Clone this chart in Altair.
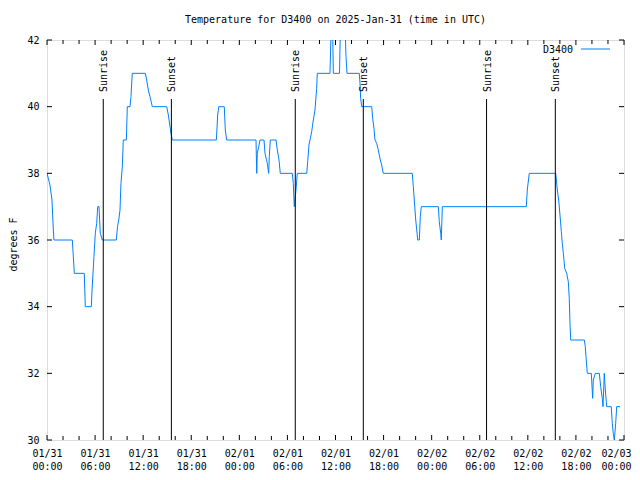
import altair as alt
import pandas as pd

# ---------------- data ----------------
hours = [0.00, 0.37, 0.62, 0.79, 0.87, 3.16, 3.41, 4.65, 4.78, 5.53, 5.62, 5.86, 6.03, 6.20, 6.33,
         6.49, 6.65, 6.90, 8.65, 8.80, 8.95, 9.11, 9.23, 9.40, 9.52, 9.90, 10.02, 10.36, 10.48, 10.64,
         12.27, 12.44, 12.64, 12.85, 13.14, 14.94, 15.14, 15.35, 15.47, 15.64, 21.13, 21.30, 21.43,
         22.12, 22.25, 22.42, 26.08, 26.17, 26.24, 26.42, 26.58, 27.08, 27.20, 27.49, 27.66, 27.74,
         27.86, 28.58, 28.74, 28.95, 29.11, 30.61, 30.73, 30.86, 31.07, 31.23, 32.41, 32.53, 32.69,
         32.86, 33.03, 33.23, 33.44, 33.65, 33.73, 35.31, 35.48, 35.60, 35.73, 36.50, 36.62, 36.75,
         37.12, 37.25, 37.31, 37.44, 38.97, 39.06, 39.14, 39.27, 40.52, 40.64, 40.80, 40.93, 41.14,
         41.34, 41.55, 41.76, 41.96, 45.58, 45.71, 45.83, 46.01, 46.26, 46.46, 46.58, 46.71, 48.83,
         48.95, 49.13, 49.20, 49.33, 59.81, 59.93, 60.18, 63.48, 63.68, 63.85, 64.01, 64.18, 64.30,
         64.43, 64.60, 64.85, 65.05, 65.17, 65.26, 65.35, 67.05, 67.17, 67.26, 67.42, 67.92, 68.09,
         68.17, 68.42, 68.92, 69.09, 69.29, 69.38, 69.54, 69.67, 69.84, 70.41, 70.54, 70.66, 70.79,
         70.96, 71.09, 71.50]
temps = [38.0, 37.65, 37.2, 36.3, 36.0, 36.0, 35.0, 35.0, 34.0, 34.0, 34.5, 35.5, 36.2, 36.5, 37.0,
         37.0, 36.2, 36.0, 36.0, 36.4, 36.6, 36.9, 37.7, 38.2, 39.0, 39.0, 40.0, 40.0, 40.3, 41.0,
         41.0, 40.8, 40.5, 40.3, 40.0, 40.0, 39.75, 39.4, 39.2, 39.0, 39.0, 39.75, 40.0,
         40.0, 39.3, 39.0, 39.0, 38.0, 38.6, 38.8, 39.0, 39.0, 38.6, 38.3, 38.0, 38.5,
         39.0, 39.0, 38.7, 38.4, 38.0, 38.0, 37.7, 37.0, 37.5, 38.0, 38.0, 38.35, 38.85,
         39.05, 39.25, 39.6, 39.9, 40.55, 41.0, 41.0, 42.5, 43.0, 41.0, 41.0, 42.5, 43.0,
         43.0, 42.0, 41.5, 41.0, 41.0, 40.7, 40.25, 40.0, 40.0, 39.65, 39.35, 39.0, 38.9,
         38.7, 38.45, 38.25, 38.0, 38.0, 37.6, 37.2, 36.6, 36.0, 36.0, 36.7, 37.0, 37.0,
         36.55, 36.2, 36.0, 37.0, 37.0, 37.5, 38.0, 38.0, 37.5, 37.2, 36.75, 36.25, 35.9,
         35.6, 35.15, 35.0, 34.75, 34.25, 33.5, 33.0, 33.0, 32.8, 32.5, 32.0, 32.0, 31.25,
         31.8, 32.0, 32.0, 31.6, 31.25, 31.0, 32.0, 31.5, 31.0, 31.0, 30.5, 30.2, 30.0,
         30.5, 31.0, 31.0]

event_hours = [7.02, 15.52, 30.98, 39.47, 54.85, 63.43]
event_labels = ["Sunrise", "Sunset", "Sunrise", "Sunset", "Sunrise", "Sunset"]

x_major = [0, 6, 12, 18, 24, 30, 36, 42, 48, 54, 60, 66, 72]
x_minor = [2, 4, 8, 10, 14, 16, 20, 22, 26, 28, 32, 34, 38, 40, 44, 46, 50, 52, 56, 58, 62, 64, 68, 70]
y_ticks = [30, 32, 34, 36, 38, 40, 42]
day_labels = ["01/31", "02/01", "02/02", "02/03"]
time_labels = ["00:00", "06:00", "12:00", "18:00"]
series_name = "D3400"
title_text = "Temperature for D3400 on 2025-Jan-31 (time in UTC)"
y_title = "degrees F"

# ---------------- style ----------------
FONT = "DejaVu Sans Mono"
FS = 10
BLUE = "#0080ff"
W, H = 577, 400

df = pd.DataFrame({"hour": hours, "temp": temps})
ev = pd.DataFrame({"hour": event_hours, "label": event_labels})
xmaj = pd.DataFrame({"hour": x_major})
xmin = pd.DataFrame({"hour": x_minor})
yt = pd.DataFrame({"temp": y_ticks})

xs = alt.Scale(domain=[0, 72], nice=False, zero=False)
ys = alt.Scale(domain=[30, 42], nice=False, zero=False)

days_js = "[" + ",".join("'%s'" % d for d in day_labels) + "]"
times_js = "[" + ",".join("'%s'" % t for t in time_labels) + "]"
label_expr = "[%s[floor(datum.value/24)], %s[floor((datum.value%%24)/6)]]" % (days_js, times_js)

x_axis = alt.Axis(values=x_major, labelExpr=label_expr, ticks=False, domain=False, grid=False,
                  labelFont=FONT, labelFontSize=FS, labelColor="black", labelPadding=8,
                  labelLineHeight=13, labelFlush=False, labelOverlap=False, labelBaseline="top",
                  labelOffset={"condition": {"test": "datum.value >= 72", "value": -8}, "value": 0},
                  title=None)
y_axis = alt.Axis(values=y_ticks, ticks=False, domain=False, grid=False,
                  labelFont=FONT, labelFontSize=FS, labelColor="black", labelPadding=8,
                  labelFlush=False, labelOverlap=False,
                  title=y_title, titleFont=FONT, titleFontSize=FS, titleFontWeight="normal",
                  titleColor="black", titleX=-31, titleY=204, titleBaseline="alphabetic")

X = alt.X("hour:Q", scale=xs, axis=x_axis)
Y = alt.Y("temp:Q", scale=ys, axis=y_axis)

line = alt.Chart(df).mark_line(color=BLUE, strokeWidth=1, clip=True).encode(x=X, y=Y)

ev_rules = alt.Chart(ev).mark_rule(color="black", strokeWidth=1).encode(
    x=X, y=alt.value(59), y2=alt.value(H),
)
ev_text = alt.Chart(ev).mark_text(angle=270, align="left", baseline="middle", font=FONT,
                                  fontSize=FS, color="black", dy=1).encode(
    x=X, y=alt.value(52), text="label:N",
)

tick_bot_maj = alt.Chart(xmaj).mark_rule(color="black").encode(
    x=X, y=alt.value(H), y2=alt.value(H - 5))
tick_top_maj = alt.Chart(xmaj).mark_rule(color="black").encode(
    x=X, y=alt.value(0), y2=alt.value(5))
tick_bot_min = alt.Chart(xmin).mark_rule(color="black").encode(
    x=X, y=alt.value(H), y2=alt.value(H - 4))
tick_top_min = alt.Chart(xmin).mark_rule(color="black").encode(
    x=X, y=alt.value(0), y2=alt.value(4))
tick_left = alt.Chart(yt).mark_rule(color="black").encode(
    y=Y, x=alt.value(0), x2=alt.value(5))
tick_right = alt.Chart(yt).mark_rule(color="black").encode(
    y=Y, x=alt.value(W), x2=alt.value(W - 5))

leg = pd.DataFrame({"name": [series_name]})
leg_text = alt.Chart(leg).mark_text(align="right", baseline="middle", font=FONT, fontSize=FS,
                                    color="black").encode(
    x=alt.value(526), y=alt.value(10), text="name:N")
leg_line = alt.Chart(leg).mark_rule(color=BLUE, strokeWidth=1).encode(
    x=alt.value(534), x2=alt.value(563), y=alt.value(9))

chart = alt.layer(
    line, ev_rules, ev_text,
    tick_bot_maj, tick_top_maj, tick_bot_min, tick_top_min, tick_left, tick_right,
    leg_text, leg_line,
).properties(
    width=W, height=H,
    title=alt.TitleParams(text=title_text, font=FONT, fontSize=FS, fontWeight="normal",
                          color="black", anchor="middle", baseline="middle", offset=5),
    autosize=alt.AutoSizeParams(type="none"),
    padding={"left": 39, "top": 32, "right": 8, "bottom": 36},
).configure_view(
    stroke="black", strokeWidth=1
).configure(background="white")

chart.save("out.html", embed_options={"renderer": "svg", "actions": False})
